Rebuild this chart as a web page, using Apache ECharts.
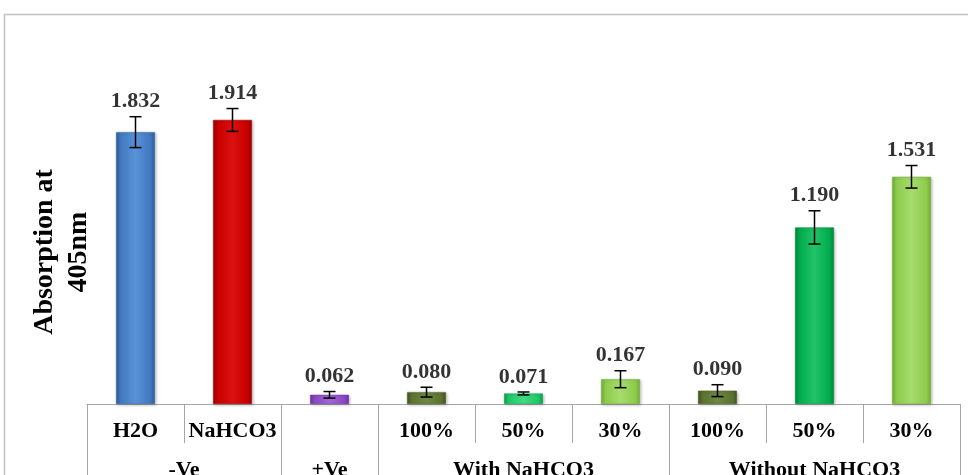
<!DOCTYPE html>
<html>
<head>
<meta charset="utf-8">
<script src="https://cdn.jsdelivr.net/npm/echarts@6/dist/echarts.min.js"></script>
<style>
html,body{margin:0;padding:0;background:#fff;}
#chart{width:968px;height:475px;}
</style>
</head>
<body>
<div id="chart"></div>
<script>
const categories = ['H2O', 'NaHCO3', '', '100%', '50%', '30%', '100%', '50%', '30%'];
const groups = ['-Ve', '+Ve', 'With NaHCO3', 'Without NaHCO3'];
const groupSizes = [2, 1, 3, 3];
const values = [1.832, 1.914, 0.062, 0.080, 0.071, 0.167, 0.090, 1.190, 1.531];
const errors = [0.104, 0.077, 0.022, 0.033, 0.010, 0.057, 0.040, 0.112, 0.076];
const yTitle = 'Absorption at\n405nm';

// bar colours: [edge, base, highlight]
const barColors = [
  ['#2f5f9e', '#4178c0', '#5a92d8'],
  ['#9c0000', '#c80000', '#dc1010'],
  ['#6f32a8', '#8a48c4', '#a466d6'],
  ['#45561f', '#5b7230', '#6e8840'],
  ['#0f9e50', '#1ec866', '#40dc84'],
  ['#74ae38', '#8ecc4c', '#a6dc6c'],
  ['#45561f', '#5b7230', '#6e8840'],
  ['#008a3c', '#00ac4e', '#22c268'],
  ['#74ae38', '#8ecc4c', '#a6dc6c']
];

const boundaries = [0];
const centers = [];
groupSizes.forEach(function (s) {
  const start = boundaries[boundaries.length - 1];
  centers.push(start + s / 2);
  boundaries.push(start + s);
});

const serif = '"Liberation Serif", "Times New Roman", serif';
const chart = echarts.init(document.getElementById('chart'));

const barData = values.map(function (v, i) {
  const c = barColors[i];
  return {
    value: v,
    itemStyle: {
      color: new echarts.graphic.LinearGradient(0, 0, 1, 0, [
        {offset: 0, color: c[0]},
        {offset: 0.12, color: c[1]},
        {offset: 0.5, color: c[2]},
        {offset: 0.88, color: c[1]},
        {offset: 1, color: c[0]}
      ]),
      borderColor: c[0],
      borderWidth: 0.5,
      shadowColor: 'rgba(0,0,0,0.25)',
      shadowBlur: 3,
      shadowOffsetX: 1,
      shadowOffsetY: 1
    }
  };
});

const errData = values.map(function (v, i) { return [i, v - errors[i], v + errors[i]]; });
const labelData = values.map(function (v, i) { return [i, v + errors[i]]; });

chart.setOption({
  animation: false,
  graphic: [{
    type: 'rect',
    shape: {x: 4.5, y: 14.5, width: 1000, height: 500},
    style: {fill: 'none', stroke: '#c0c0c0', lineWidth: 1.5},
    z: -10
  }, {
    type: 'text',
    x: 62,
    y: 252,
    rotation: Math.PI / 2,
    style: {
      text: yTitle,
      fill: '#000',
      font: 'bold 28px ' + serif,
      lineHeight: 34,
      align: 'center',
      verticalAlign: 'middle'
    }
  }],
  grid: {left: 87, right: 8, top: 33, bottom: 71, containLabel: false, outerBoundsMode: 'none'},
  xAxis: [{
    type: 'category',
    data: categories,
    position: 'bottom',
    axisLine: {show: true, lineStyle: {color: '#a6a6a6', width: 1}},
    axisTick: {show: true, interval: 0, length: 39, lineStyle: {color: '#a6a6a6', width: 1}},
    axisLabel: {interval: 0, margin: 16, color: '#000', fontFamily: serif, fontWeight: 'bold', fontSize: 22},
    splitLine: {show: false}
  }, {
    type: 'value',
    min: 0,
    max: 9,
    position: 'bottom',
    axisLine: {show: false},
    axisTick: {show: true, customValues: boundaries, length: 80, lineStyle: {color: '#a6a6a6', width: 1}},
    axisLabel: {
      customValues: centers,
      margin: 55,
      color: '#000', fontFamily: serif, fontWeight: 'bold', fontSize: 22,
      formatter: function (v) {
        const k = centers.indexOf(v);
        return k >= 0 ? groups[k] : '';
      }
    },
    splitLine: {show: false}
  }],
  yAxis: {
    type: 'value',
    min: 0,
    max: 2.5,
    axisLine: {show: false},
    axisTick: {show: false},
    axisLabel: {show: false},
    splitLine: {show: false}
  },
  series: [{
    type: 'bar',
    data: barData,
    barWidth: '40%',
    xAxisIndex: 0
  }, {
    type: 'custom',
    xAxisIndex: 0,
    data: errData,
    z: 5,
    renderItem: function (params, api) {
      const i = api.value(0);
      const lo = api.coord([i, api.value(1)]);
      const hi = api.coord([i, api.value(2)]);
      const x = lo[0];
      const w = 6;
      const st = {stroke: '#000', lineWidth: 1.5};
      return {
        type: 'group',
        children: [
          {type: 'line', shape: {x1: x, y1: lo[1], x2: x, y2: hi[1]}, style: st},
          {type: 'line', shape: {x1: x - w, y1: lo[1], x2: x + w, y2: lo[1]}, style: st},
          {type: 'line', shape: {x1: x - w, y1: hi[1], x2: x + w, y2: hi[1]}, style: st}
        ]
      };
    }
  }, {
    type: 'scatter',
    xAxisIndex: 0,
    data: labelData,
    symbolSize: 0,
    silent: true,
    label: {
      show: true,
      position: 'top',
      distance: 4,
      color: '#000',
      fontFamily: serif,
      fontWeight: 'bold',
      fontSize: 22,
      formatter: function (p) { return values[p.dataIndex].toFixed(3); }
    }
  }]
});
</script>
</body>
</html>
